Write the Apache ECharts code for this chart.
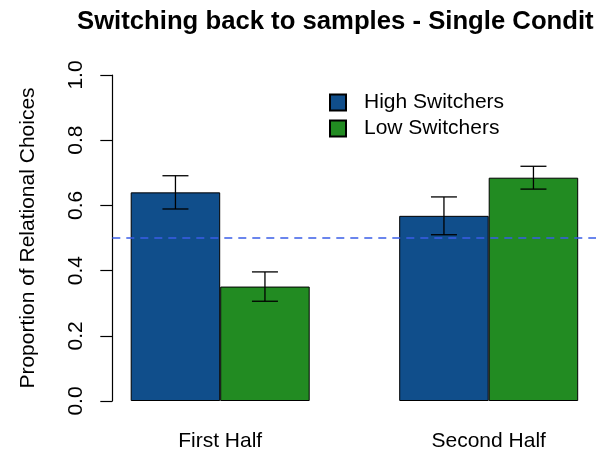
<!DOCTYPE html>
<html>
<head>
<meta charset="utf-8">
<script src="https://cdn.jsdelivr.net/npm/echarts@6/dist/echarts.min.js"></script>
<style>
  html, body { margin: 0; padding: 0; background: #fff; }
  #chart { width: 596px; height: 451px; }
</style>
</head>
<body>
<div id="chart"></div>
<script>
// values
const categories = ["First Half", "Second Half"];
const highMeans = [0.640, 0.568];
const lowMeans = [0.351, 0.685];
const highErr = [0.051, 0.058];
const lowErr = [0.045, 0.035];
const chanceLevel = 0.5;
const yMin = 0, yMax = 1, yStep = 0.2;

const FONT = "'Liberation Sans', Arial, Helvetica, sans-serif";
const BLUE = "#104E8B";
const GREEN = "#228B22";

// error bar rows: [category index, low, high]
function errRows(means, errs) {
  return means.map((m, i) => [i, m - errs[i], m + errs[i]]);
}

function errRender(side) {
  return function (params, api) {
    const lo = api.coord([api.value(0), api.value(1)]);
    const hi = api.coord([api.value(0), api.value(2)]);
    const band = api.size([1, 0])[0];
    const x = lo[0] + side * band / 6;
    const cap = 13;
    const st = { stroke: "#000", lineWidth: 1.3 };
    return {
      type: "group",
      children: [
        { type: "line", shape: { x1: x, y1: lo[1], x2: x, y2: hi[1] }, style: st },
        { type: "line", shape: { x1: x - cap, y1: lo[1], x2: x + cap, y2: lo[1] }, style: st },
        { type: "line", shape: { x1: x - cap, y1: hi[1], x2: x + cap, y2: hi[1] }, style: st }
      ]
    };
  };
}

const chart = echarts.init(document.getElementById("chart"));
chart.setOption({
  animation: false,
  textStyle: { fontFamily: FONT },
  title: {
    text: "Switching back to samples - Single Condit",
    left: 72,
    top: 4,
    textStyle: { fontFamily: FONT, fontSize: 25.7, fontWeight: "bold", color: "#000" }
  },
  legend: {
    orient: "vertical",
    left: 324,
    top: 87,
    itemWidth: 16,
    itemHeight: 16,
    itemGap: 5,
    icon: "rect",
    data: ["High Switchers", "Low Switchers"],
    textStyle: { fontFamily: FONT, fontSize: 21, color: "#000", padding: [0, 0, 0, 13] }
  },
  grid: [
    { left: 85.95, width: 537, top: 75, bottom: 50, outerBoundsMode: "none", containLabel: false },
    { left: 112.3, right: 0, top: 75, bottom: 50, outerBoundsMode: "none", containLabel: false }
  ],
  xAxis: [
    {
      gridIndex: 0,
      type: "category",
      data: categories,
      axisLine: { show: false },
      axisTick: { show: false },
      axisLabel: { fontFamily: FONT, fontSize: 21, color: "#000", margin: 30 }
    },
    { gridIndex: 1, type: "value", min: 0, max: 1, show: false }
  ],
  yAxis: [
    {
      gridIndex: 0,
      type: "value",
      min: yMin,
      max: yMax,
      interval: yStep,
      offset: -26.35,
      name: "Proportion of Relational Choices",
      nameLocation: "middle",
      nameGap: 74,
      nameRotate: 90,
      nameTextStyle: { fontFamily: FONT, fontSize: 21, color: "#000" },
      axisLine: { show: true, lineStyle: { color: "#000", width: 1.2 } },
      axisTick: { show: true, length: 12, lineStyle: { color: "#000", width: 1.2 } },
      splitLine: { show: false },
      axisLabel: {
        rotate: 90,
        fontFamily: FONT,
        fontSize: 21,
        color: "#000",
        margin: 26,
        formatter: v => v.toFixed(1)
      }
    },
    { gridIndex: 1, type: "value", min: yMin, max: yMax, show: false }
  ],
  series: [
    {
      name: "High Switchers",
      type: "bar",
      xAxisIndex: 0,
      yAxisIndex: 0,
      data: highMeans,
      barWidth: "33.333%",
      barGap: "0%",
      itemStyle: { color: BLUE, borderColor: "#000", borderWidth: 1 }
    },
    {
      name: "Low Switchers",
      type: "bar",
      xAxisIndex: 0,
      yAxisIndex: 0,
      data: lowMeans,
      barWidth: "33.333%",
      barGap: "0%",
      itemStyle: { color: GREEN, borderColor: "#000", borderWidth: 1 }
    },
    {
      type: "custom",
      xAxisIndex: 0,
      yAxisIndex: 0,
      renderItem: errRender(-1),
      data: errRows(highMeans, highErr),
      z: 5
    },
    {
      type: "custom",
      xAxisIndex: 0,
      yAxisIndex: 0,
      renderItem: errRender(1),
      data: errRows(lowMeans, lowErr),
      z: 5
    },
    {
      type: "line",
      xAxisIndex: 1,
      yAxisIndex: 1,
      data: [],
      z: 10,
      markLine: {
        silent: true,
        symbol: ["none", "none"],
        label: { show: false },
        lineStyle: { color: "#3a5ee8", width: 1.6, type: [8, 6] },
        data: [{ yAxis: chanceLevel }]
      }
    }
  ]
});
</script>
</body>
</html>
